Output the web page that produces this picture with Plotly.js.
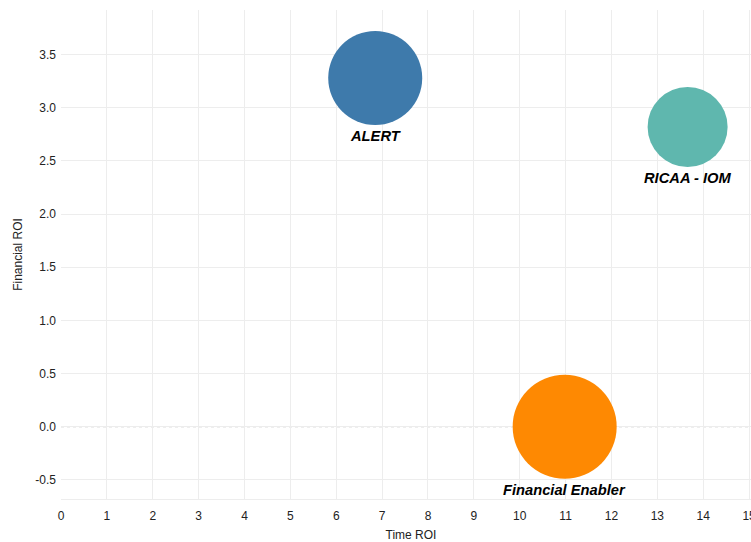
<!DOCTYPE html>
<html>
<head>
<meta charset="utf-8">
<script src="https://cdn.plot.ly/plotly-3.0.1.min.js"></script>
<style>
html,body{margin:0;padding:0;background:#fff;overflow:hidden;width:751px;height:542px;}
#chart{width:761px;height:542px;}
</style>
</head>
<body>
<div id="chart"></div>
<script>
// Data
var projects = ["ALERT", "RICAA - IOM", "Financial Enabler"];
var timeROI = [6.85, 13.66, 10.98];
var financialROI = [3.28, 2.82, 0.0];
var bubbleSize = [94, 80, 104];
var colors = ["#3e7aab", "#5fb7ae", "#fe8902"];
var xTicks = [0,1,2,3,4,5,6,7,8,9,10,11,12,13,14,15];
var yTicks = [-0.5,0,0.5,1,1.5,2,2.5,3,3.5];
var yTickLabels = ["-0.5","0.0","0.5","1.0","1.5","2.0","2.5","3.0","3.5"];

var trace = {
  type: "scatter",
  mode: "markers",
  x: timeROI,
  y: financialROI,
  text: projects,
  marker: {size: bubbleSize, sizemode: "diameter", color: colors, opacity: 1, line: {width: 0}},
  hoverinfo: "text",
  cliponaxis: false,
  showlegend: false
};

var annotations = projects.map(function (name, i) {
  return {
    x: timeROI[i], y: financialROI[i], xref: "x", yref: "y",
    text: "<b><i>" + name + "</i></b>",
    showarrow: false,
    yshift: -(bubbleSize[i] / 2 + 11),
    font: {family: "Liberation Sans, Arial, sans-serif", size: 14.7, color: "#000"}
  };
});

var layout = {
  width: 761,
  height: 542,
  margin: {l: 61, r: 0, t: 10, b: 43, autoexpand: false},
  paper_bgcolor: "#fff",
  plot_bgcolor: "#fff",
  font: {family: "Liberation Sans, Arial, sans-serif", size: 12, color: "#222"},
  xaxis: {
    range: [0, 15.26],
    tickvals: xTicks,
    ticktext: xTicks.map(String),
    showgrid: true,
    gridcolor: "#ededed",
    gridwidth: 1,
    zeroline: false,
    showline: true,
    linecolor: "#ededed",
    ticks: "",
    ticklabelstandoff: 6,
    ticklabeloverflow: "allow",
    tickfont: {size: 12, color: "#222"},
    title: {text: "Time ROI", font: {size: 12, color: "#222"}, standoff: 10},
    automargin: false
  },
  yaxis: {
    range: [-0.68, 3.92],
    tickvals: yTicks,
    ticktext: yTickLabels,
    showgrid: true,
    gridcolor: "#ededed",
    gridwidth: 1,
    zeroline: false,
    showline: false,
    ticks: "",
    ticklabelstandoff: 4,
    tickfont: {size: 12, color: "#222"},
    title: {text: "Financial ROI", font: {size: 12, color: "#222"}, standoff: 10},
    automargin: false
  },
  annotations: annotations,
  shapes: [{
    type: "line", xref: "paper", x0: 0, x1: 1, yref: "y", y0: 0, y1: 0,
    line: {color: "#aaaaaa", width: 1, dash: "dot"}, layer: "between"
  }]
};

Plotly.newPlot("chart", [trace], layout, {displayModeBar: false, staticPlot: true});
</script>
</body>
</html>
